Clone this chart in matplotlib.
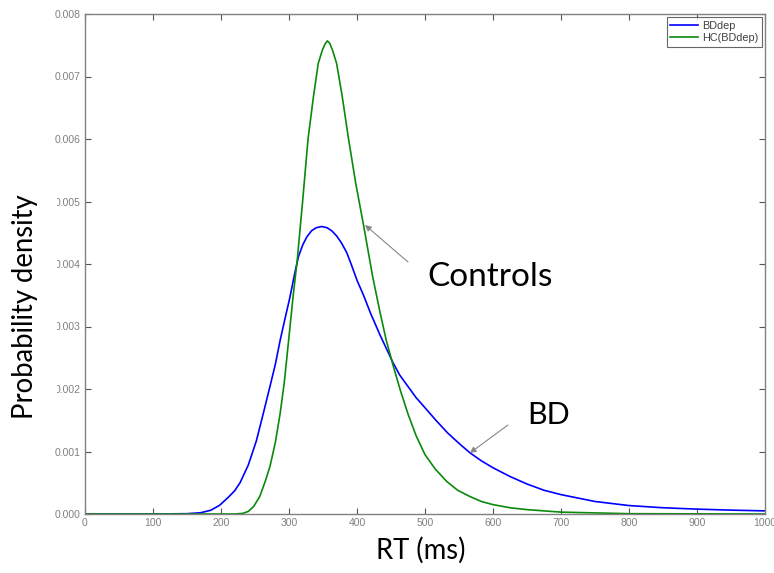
import matplotlib
matplotlib.use("Agg")
import matplotlib.pyplot as plt
from matplotlib.patches import Rectangle

# Reaction time grid (ms) and densities
bd_rt = [0, 100, 150, 170, 185, 198, 210, 220, 228, 240, 252, 262, 272, 280, 287,
         294, 301, 309, 314, 320, 326, 333, 340, 348, 356, 363, 370, 377, 385, 392,
         400, 410, 420, 434, 453, 463, 475, 487, 500, 516, 533, 550, 566, 583, 600,
         625, 650, 675, 700, 750, 800, 850, 900, 950, 1000]
bd_density = [0, 0, 0.000005, 0.00002, 0.00006, 0.00014, 0.00026, 0.00037, 0.00050,
              0.00078, 0.00117, 0.00160, 0.00204, 0.00240, 0.00278, 0.00312, 0.00345,
              0.00388, 0.00412, 0.00430, 0.00443, 0.00453, 0.00458, 0.00460, 0.00458,
              0.00453, 0.00445, 0.00434, 0.00418, 0.00398, 0.00374, 0.00349, 0.00321,
              0.00286, 0.00242, 0.00222, 0.00204, 0.00186, 0.00170, 0.00150, 0.00130,
              0.00113, 0.00098, 0.00085, 0.00074, 0.00060, 0.00048, 0.00038, 0.00031,
              0.00020, 0.000135, 0.00010, 0.000078, 0.000062, 0.00005]

hc_rt = [0, 220, 232, 240, 248, 257, 265, 272, 280, 287, 293, 297, 302, 306, 312,
         320, 328, 336, 343, 349, 353, 356.5, 360, 364, 370, 378, 387, 398, 410, 423,
         434, 443, 453, 464, 475, 487, 500, 515, 532, 548, 566, 583, 600, 625, 650,
         700, 800, 1000]
hc_density = [0, 0, 0.00001, 0.00004, 0.00012, 0.00028, 0.00052, 0.00076, 0.00115,
              0.00161, 0.00210, 0.00252, 0.00305, 0.00348, 0.00405, 0.00500, 0.00600,
              0.00668, 0.00721, 0.00742, 0.00752, 0.00757, 0.00753, 0.00742, 0.00721,
              0.00670, 0.00604, 0.00530, 0.00460, 0.00380, 0.00322, 0.00278, 0.00238,
              0.00197, 0.00160, 0.00125, 0.00095, 0.00072, 0.00052, 0.00038, 0.00028,
              0.00020, 0.00015, 0.00010, 0.00007, 0.00003, 0.000005, 0]

series_labels = ["BDdep", "HC(BDdep)"]
x_ticks = [0, 100, 200, 300, 400, 500, 600, 700, 800, 900, 1000]
y_ticks = [0.000, 0.001, 0.002, 0.003, 0.004, 0.005, 0.006, 0.007, 0.008]

W, H = 774, 573
fig = plt.figure(figsize=(W / 100, H / 100), dpi=100)
ax = fig.add_axes([85 / W, (H - 514) / H, (765 - 85) / W, (514 - 14) / H])

ax.plot(bd_rt, bd_density, color="#0000ff", lw=1.2, label=series_labels[0],
        solid_joinstyle="round")
ax.plot(hc_rt, hc_density, color="#0a8a0a", lw=1.2, label=series_labels[1],
        solid_joinstyle="round")

ax.set_xlim(0, 1000)
ax.set_ylim(0, 0.008)
ax.set_xticks(x_ticks)
ax.set_xticklabels([str(v) for v in x_ticks])
ax.set_yticks(y_ticks)
ax.set_yticklabels([f"{v:.3f}" for v in y_ticks])

grey = "#808080"
for s in ax.spines.values():
    s.set_color(grey)
    s.set_linewidth(1.0)
ax.tick_params(direction="in", length=4, width=0.8, color="#555555",
               labelcolor=grey, labelsize=7.5, top=True, right=True,
               labelfontfamily="Liberation Sans", pad=3)

leg = ax.legend(loc="upper right", frameon=True, fancybox=False,
                handlelength=2.6, borderpad=0.35, labelspacing=0.2,
                handletextpad=0.3, borderaxespad=0.3,
                prop={"family": "Liberation Sans", "size": 7.8})
leg.get_frame().set_edgecolor("#404040")
leg.get_frame().set_linewidth(0.8)
for t in leg.get_texts():
    t.set_color("#404040")

# Annotations
ax.annotate("", xy=(411.8, 0.004624), xytext=(475, 0.004032),
            arrowprops=dict(arrowstyle="-|>", color="#888888", lw=0.8,
                            mutation_scale=9, shrinkA=0, shrinkB=0))
ax.annotate("", xy=(566, 0.000976), xytext=(622, 0.001424),
            arrowprops=dict(arrowstyle="-|>", color="#888888", lw=0.8,
                            mutation_scale=9, shrinkA=0, shrinkB=0))
ax.text(596, 0.003792, "Controls", fontsize=24, family="Lato",
        ha="center", va="center", color="black")
ax.text(682, 0.001584, "BD", fontsize=22, family="Lato",
        ha="center", va="center", color="black")

# White box behind y label covering part of tick labels
fig.patches.append(Rectangle((0, (H - 430) / H), 57 / W, 240 / H,
                             transform=fig.transFigure, facecolor="white",
                             edgecolor="none", zorder=5))
fig.text(25 / W, 1 - 307 / H, "Probability density", rotation=90, fontsize=19.8,
         family="Lato", ha="center", va="center", zorder=6)
fig.text(421 / W, 1 - 550 / H, "RT (ms)", fontsize=19.8, family="Lato",
         ha="center", va="center", zorder=6)

fig.savefig("out.png", dpi=100)
